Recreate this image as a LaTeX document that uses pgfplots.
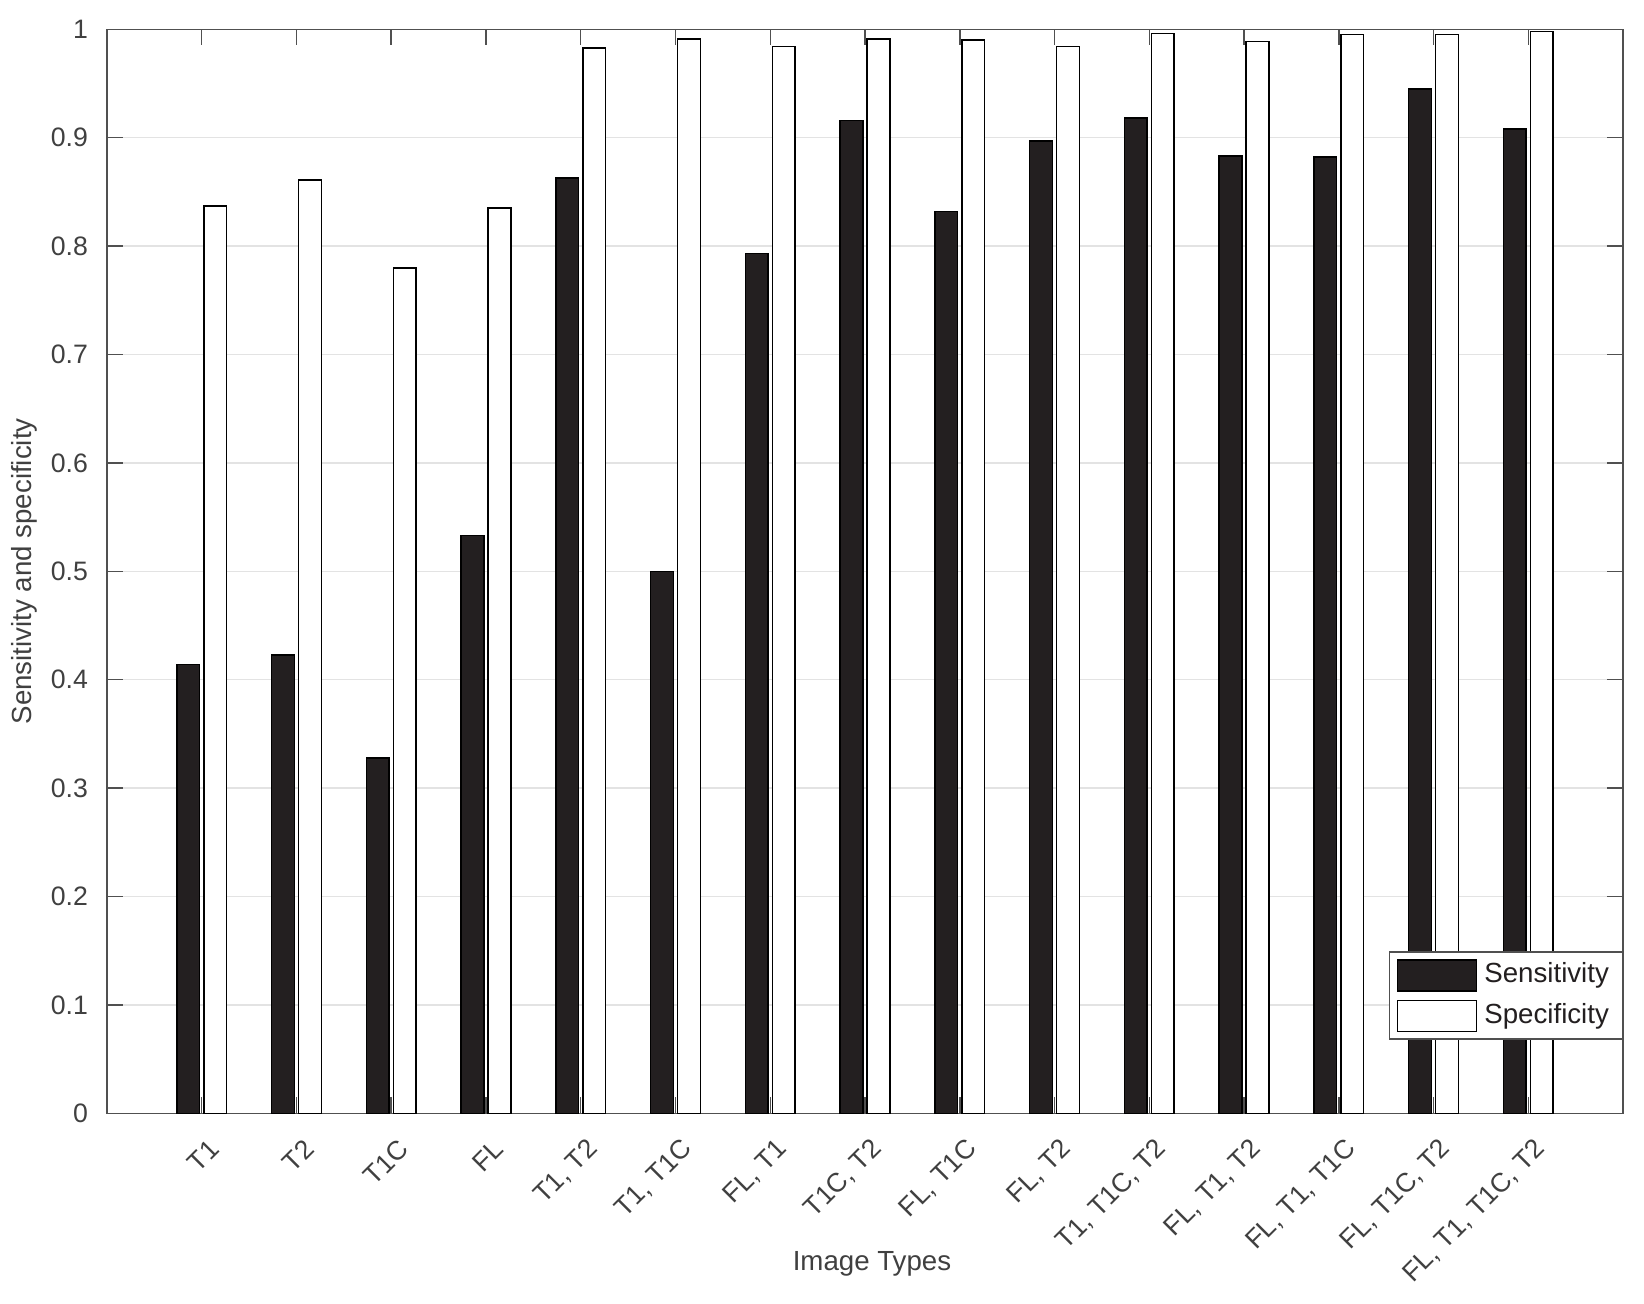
\documentclass[border=0pt]{standalone}
\usepackage{pgfplots}
\pgfplotsset{compat=1.18}
\usepackage{fontspec}
\setmainfont{Liberation Sans}
\definecolor{axgray}{HTML}{505050}
\definecolor{txtgray}{HTML}{404040}
\definecolor{gridgray}{HTML}{E3E3E3}
\definecolor{barblack}{HTML}{231F20}
\begin{document}
\begin{tikzpicture}
\begin{axis}[
  scale only axis,
  width=454.8pt, height=325.2pt,
  xmin=0, xmax=16, ymin=0, ymax=1,
  ybar, bar width=0.24,
  legend image code/.code={\draw[#1] (0pt,-4.65pt) rectangle (23.7pt,4.65pt);},
  xtick={1,2,3,4,5,6,7,8,9,10,11,12,13,14,15},
  xticklabels={T1,T2,T1C,FL,{T1, T2},{T1, T1C},{FL, T1},{T1C, T2},{FL, T1C},{FL, T2},{T1, T1C, T2},{FL, T1, T2},{FL, T1, T1C},{FL, T1C, T2},{FL, T1, T1C, T2}},
  ytick={0,0.1,0.2,0.3,0.4,0.5,0.6,0.7,0.8,0.9,1},
  tick pos=both,
  tick align=inside,
  major tick length=4.8pt,
  ymajorgrids,
  grid style={gridgray, line width=0.4pt},
  axis line style={axgray, line width=0.45pt},
  every tick/.style={axgray, line width=0.45pt},
  /pgf/number format/assume math mode=true,
  ticklabel style={font=\fontsize{8}{9.6}\selectfont, text=txtgray},
  yticklabel style={xshift=-2.2pt},
  xticklabel style={xshift=3.9pt, yshift=-9.3pt, rotate=45, anchor=east, inner sep=0pt},
  xlabel={Image Types},
  ylabel={Sensitivity and specificity},
  label style={font=\fontsize{8.3}{10}\selectfont, text=txtgray},
  xlabel style={at={(axis description cs:0.5046,-0.139)}, anchor=center},
  ylabel style={at={(axis description cs:-0.0547,0.5)}, anchor=center},
  legend style={at={(axis description cs:1,0.0678)}, anchor=south east,
    draw=axgray, line width=0.45pt, fill=white,
    font=\fontsize{8.3}{9.6}\selectfont, text=barblack,
    inner xsep=2.2pt, inner ysep=2.1pt, row sep=2.4pt, column sep=1.8pt,
    nodes={inner sep=0.3pt}, cells={anchor=west}},
]
\addplot[fill=barblack, draw=black, line width=0.45pt, bar shift=-0.143] coordinates {
(1,0.414) (2,0.423) (3,0.328) (4,0.533) (5,0.863) (6,0.500) (7,0.793) (8,0.916)
(9,0.832) (10,0.897) (11,0.918) (12,0.883) (13,0.882) (14,0.945) (15,0.908)};
\addlegendentry{Sensitivity\hspace*{1.5pt}}
\addplot[fill=white, draw=black, line width=0.45pt, bar shift=0.143] coordinates {
(1,0.837) (2,0.861) (3,0.780) (4,0.835) (5,0.983) (6,0.991) (7,0.984) (8,0.991)
(9,0.990) (10,0.984) (11,0.996) (12,0.989) (13,0.995) (14,0.995) (15,0.998)};
\addlegendentry{Specificity\hspace*{1.5pt}}
\end{axis}
\pgfresetboundingbox
\path ([xshift=-32.1pt,yshift=-57.2pt]current axis.south west) rectangle ([xshift=6.3pt,yshift=8.8pt]current axis.north east);
\end{tikzpicture}
\end{document}
